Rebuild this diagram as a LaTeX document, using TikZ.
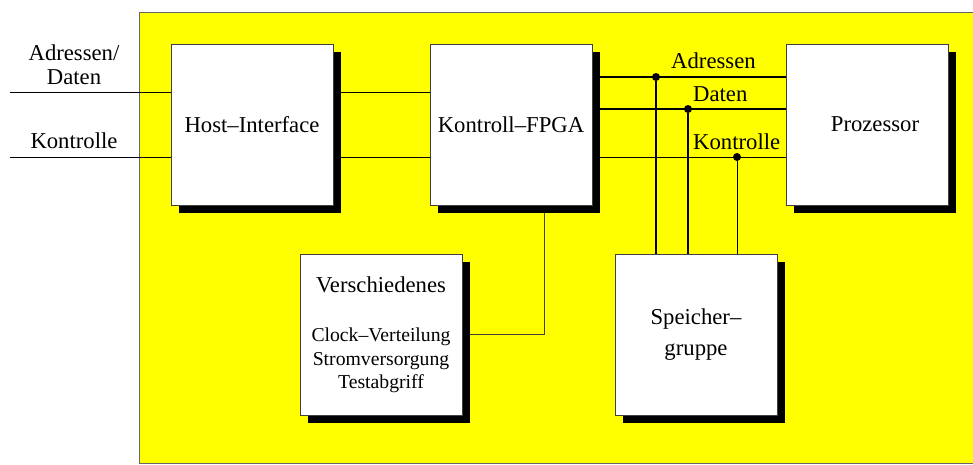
\documentclass[tikz,border=0pt]{standalone}
\usepackage{fontspec}
\setmainfont{Liberation Serif}
\usepackage{tikz}
\usetikzlibrary{positioning,shadows}
\definecolor{boardyellow}{RGB}{255,255,0}
\newcommand{\bigtxt}{\fontsize{22.7}{23.5}\selectfont}
\newcommand{\smalltxt}{\fontsize{19.7}{23.5}\selectfont}
\pgfdeclarelayer{bg}
\pgfdeclarelayer{wires}
\pgfsetlayers{bg,wires,main}

\begin{document}
\begin{tikzpicture}[
    x=1pt, y=-1pt,
    node distance=96pt,
    box/.style={
        draw=black!75,
        line width=1pt,
        fill=white,
        minimum width=162pt,
        minimum height=161pt,
        align=center,
        font=\bigtxt,
        drop shadow={shadow xshift=8pt, shadow yshift=-8pt, opacity=1, fill=black}
    },
    lbl/.style={inner sep=0pt, font=\bigtxt, align=center},
    wire/.style={line width=1pt},
    bus/.style={line width=1.8pt},
    dot/.style={circle, fill=black, inner sep=0pt, minimum size=8pt}
]
\useasboundingbox (0,0) rectangle (973,464);

\node[box] (host) at (252,124.5) {Host--Interface};
\node[box, right=of host] (fpga) {Kontroll--FPGA};
\node[box, right=193pt of fpga] (proz) {\hspace*{16pt}Prozessor};
\node[box] (versch) at (381,334.5) {Verschiedenes\\[26pt]
    \smalltxt Clock--Verteilung\\ \smalltxt Stromversorgung\\ \smalltxt Testabgriff};
\node[box] (speicher) at (696,334.5) {Speicher--\\[7pt]gruppe};

\node[lbl, anchor=base] (lAD) at (74,84) {Adressen/\\Daten};
\node[lbl, anchor=base] (lK) at (74,148) {Kontrolle};
\node[lbl, anchor=base west] (lA) at (671,68) {Adressen};
\node[lbl, anchor=base west] (lD) at (693,101) {Daten};
\node[lbl, anchor=base west] (lKr) at (693,149) {Kontrolle};

\coordinate (inAD) at (10,92);
\coordinate (inK) at (10,157);
\coordinate (dA) at (656,77);
\coordinate (dD) at (688,109);
\coordinate (dK) at (737,157);

\node[dot] (pA) at (dA) {};
\node[dot] (pD) at (dD) {};
\node[dot] (pK) at (dK) {};

\begin{pgfonlayer}{bg}
\draw[draw=black!60, line width=1pt, fill=boardyellow] (139,12) rectangle (990,463);
\end{pgfonlayer}

\begin{pgfonlayer}{wires}
\draw[wire] (inAD) -- (inAD -| host.west);
\draw[wire] (inK) -- (inK -| host.west);
\draw[wire] (inAD -| host.east) -- (inAD -| fpga.west);
\draw[wire] (inK -| host.east) -- (inK -| fpga.west);
\draw[bus] (dA -| fpga.east) -- (dA -| proz.west);
\draw[bus] (dD -| fpga.east) -- (dD -| proz.west);
\draw[wire] (dK -| fpga.east) -- (dK -| proz.west);
\draw[bus] (pA) -- (pA |- speicher.north);
\draw[bus] (pD) -- (pD |- speicher.north);
\draw[wire] (pK) -- (pK |- speicher.north);
\draw[wire, draw=black!75] ([xshift=33pt]fpga.south) |- (versch.east);
\end{pgfonlayer}

\end{tikzpicture}
\end{document}
